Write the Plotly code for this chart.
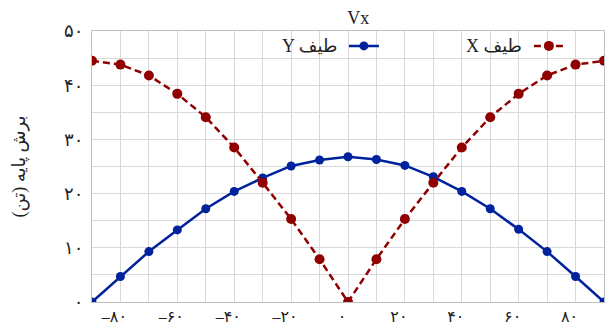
import plotly.graph_objects as go

angles = [-90, -80, -70, -60, -50, -40, -30, -20, -10, 0, 10, 20, 30, 40, 50, 60, 70, 80, 90]
spectrum_x = [44.5, 43.8, 41.8, 38.4, 34.1, 28.5, 22.0, 15.3, 7.9, 0.0, 7.9, 15.3, 22.0, 28.5, 34.1, 38.4, 41.8, 43.8, 44.5]
spectrum_y = [0.0, 4.7, 9.3, 13.3, 17.2, 20.4, 22.9, 25.1, 26.2, 26.8, 26.3, 25.2, 23.1, 20.4, 17.2, 13.4, 9.3, 4.7, 0.0]

x_tickvals = [-80, -60, -40, -20, 0, 20, 40, 60, 80]
x_ticktext = ["–۸۰", "–۶۰", "–۴۰", "–۲۰", "۰", "۲۰", "۴۰", "۶۰", "۸۰"]
y_tickvals = [0, 10, 20, 30, 40, 50]
y_ticktext = ["۰", "۱۰", "۲۰", "۳۰", "۴۰", "۵۰"]

name_x = "X طیف"
name_y = "Y طیف"
title_text = "Vx"
y_title = "برش پایه (تن)\u200f"

RED = "#900000"
BLUE = "#00229C"
GRID = "#d9d9d9"
FONT = "Liberation Serif, DejaVu Sans, serif"

fig = go.Figure()
fig.add_trace(go.Scatter(
    x=angles, y=spectrum_y, name=name_y, mode="lines+markers",
    line=dict(color=BLUE, width=2.5),
    marker=dict(color=BLUE, size=9),
))
fig.add_trace(go.Scatter(
    x=angles, y=spectrum_x, name=name_x, mode="lines+markers",
    line=dict(color=RED, width=2.5, dash="7px,4px"),
    marker=dict(color=RED, size=10),
    legendwidth=10,
))

# page body has an 8px margin, so the figure is sized to fit the window
fig.update_layout(
    width=606, height=323,
    margin=dict(l=84, r=10, t=23, b=29),
    paper_bgcolor="white", plot_bgcolor="white",
    font=dict(family=FONT, size=15, color="#222"),
    title=dict(text=title_text, x=0.578, xanchor="center", y=0.97, yanchor="middle",
               font=dict(family=FONT, size=18, color="#222")),
    showlegend=True,
    legend=dict(orientation="h", x=0.492, xanchor="left", y=0.945, yanchor="middle",
                entrywidth=140, entrywidthmode="pixels",
                bgcolor="rgba(255,255,255,0)", borderwidth=0,
                font=dict(size=2, color="rgba(0,0,0,0)")),
    annotations=[
        dict(text=name_y, xref="paper", yref="paper", x=0.482, y=0.945,
             xanchor="right", yanchor="middle", showarrow=False,
             font=dict(family=FONT, size=18, color="#222")),
        dict(text=name_x, xref="paper", yref="paper", x=0.844, y=0.945,
             xanchor="right", yanchor="middle", showarrow=False,
             font=dict(family=FONT, size=18, color="#222")),
    ],
)

fig.update_xaxes(
    range=[-90, 90], tickvals=x_tickvals, ticktext=x_ticktext,
    showgrid=True, gridcolor=GRID, gridwidth=1,
    minor=dict(tick0=-90, dtick=10, showgrid=True, gridcolor=GRID, gridwidth=1),
    showline=True, linecolor="#bfbfbf", linewidth=1, mirror=True,
    zeroline=False, ticks="", ticklabelshift=-6, automargin=False,
    tickfont=dict(family=FONT, size=16, color="#222"),
)
fig.update_yaxes(
    range=[0, 50], tickvals=y_tickvals, ticktext=y_ticktext,
    showgrid=True, gridcolor=GRID, gridwidth=1,
    minor=dict(tick0=0, dtick=5, showgrid=True, gridcolor=GRID, gridwidth=1),
    showline=True, linecolor="#bfbfbf", linewidth=1, mirror=True,
    zeroline=False, ticks="", ticklabelstandoff=4, automargin=False,
    tickfont=dict(family=FONT, size=18, color="#222"),
    title=dict(text=y_title, standoff=33, font=dict(family=FONT, size=18, color="#222")),
)

fig.write_html("out.html")
